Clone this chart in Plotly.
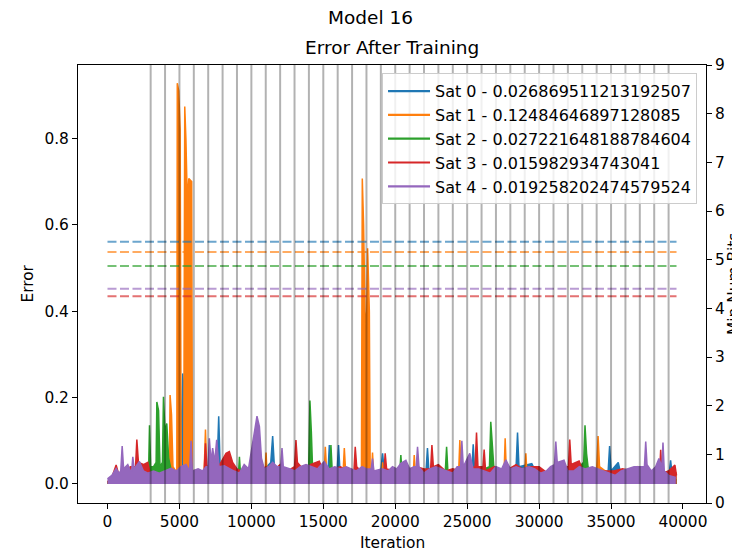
import plotly.graph_objects as go

# ---------------- data ----------------
sat_names = [
    "Sat 0 - 0.026869511213192507",
    "Sat 1 - 0.12484646897128085",
    "Sat 2 - 0.027221648188784604",
    "Sat 3 - 0.015982934743041",
    "Sat 4 - 0.019258202474579524",
]
colors = ["#1f77b4", "#ff7f0e", "#2ca02c", "#d62728", "#9467bd"]

# error envelopes (iteration, error) per satellite
sat0_x = [0, 1000, 2000, 3000, 4000, 4450, 4700, 5080, 5180, 5230, 5300, 5400, 5480, 6000, 7000, 7620, 7730, 7830,
          8500, 9500, 10500, 11350, 11480, 11600, 12500, 13500, 14500, 15330, 15420, 15520, 15960, 16060, 16160,
          17000, 18000, 19000, 19120, 19250, 20500, 21500, 22140, 22240, 22340, 23500, 24500, 25320, 25420, 25520,
          26500, 27500, 28400, 28500, 28600, 29490, 29900, 31000, 32000, 33000, 34000, 34800, 34900, 35000, 35500,
          35700, 36500, 37500, 38500, 39060, 39140, 39250, 39550]
sat0_y = [0.005, 0.01, 0.01, 0.015, 0.02, 0.04, 0.02, 0.05, 0.20, 0.256, 0.22, 0.10, 0.03, 0.015, 0.02, 0.04, 0.157,
          0.04, 0.02, 0.015, 0.02, 0.05, 0.111, 0.04, 0.02, 0.015, 0.02, 0.03, 0.09, 0.03, 0.03, 0.09, 0.03, 0.02,
          0.015, 0.03, 0.071, 0.025, 0.02, 0.02, 0.03, 0.083, 0.03, 0.02, 0.025, 0.03, 0.092, 0.03, 0.02, 0.02, 0.04,
          0.119, 0.04, 0.047, 0.02, 0.015, 0.02, 0.02, 0.025, 0.03, 0.088, 0.03, 0.05, 0.02, 0.02, 0.02, 0.025, 0.03,
          0.055, 0.02, 0.02]

sat1_x = [0, 1000, 2000, 3000, 4000, 4300, 4350, 4450, 4550, 4750, 4820, 4850, 4950, 5050, 5120, 5300, 5370, 5450,
          5550, 5650, 5850, 5900, 6300, 6720, 6810, 6900, 7500, 8500, 9500, 10500, 10560, 10650, 10950, 11020, 11100,
          12500, 14000, 15060, 15140, 15230, 16000, 16380, 16460, 16550, 17300, 17650, 17710, 17800, 17900, 18000,
          18080, 18200, 18260, 18350, 18420, 18500, 19050, 19120, 19200, 20500, 21250, 21320, 21400, 22500, 23500,
          24400, 24490, 24580, 25500, 26500, 27560, 27640, 27720, 28500, 29000, 29080, 29160, 30500, 31500, 32500,
          33500, 34000, 34100, 34200, 35000, 36000, 36830, 37500, 38500, 39260, 39550]
sat1_y = [0.005, 0.01, 0.01, 0.02, 0.03, 0.03, 0.206, 0.16, 0.04, 0.03, 0.03, 0.928, 0.91, 0.82, 0.04, 0.04, 0.874,
          0.80, 0.65, 0.707, 0.70, 0.02, 0.015, 0.03, 0.126, 0.03, 0.02, 0.025, 0.02, 0.02, 0.06, 0.02, 0.02, 0.073,
          0.02, 0.02, 0.02, 0.02, 0.086, 0.03, 0.03, 0.03, 0.083, 0.03, 0.02, 0.02, 0.707, 0.60, 0.40, 0.35, 0.546,
          0.40, 0.02, 0.02, 0.073, 0.02, 0.02, 0.05, 0.02, 0.02, 0.02, 0.067, 0.02, 0.02, 0.02, 0.02, 0.102, 0.03,
          0.02, 0.02, 0.02, 0.106, 0.03, 0.02, 0.02, 0.071, 0.02, 0.02, 0.02, 0.025, 0.03, 0.03, 0.111, 0.04, 0.02,
          0.025, 0.04, 0.02, 0.02, 0.03, 0.025]

sat2_x = [0, 1000, 2000, 2850, 2920, 3000, 3200, 3380, 3430, 3550, 3650, 3820, 3890, 4000, 4120, 4250, 4400, 4500,
          5000, 6000, 7000, 8000, 9000, 9100, 9170, 9250, 10000, 11000, 12000, 13000, 13980, 14070, 14170, 14250,
          14600, 15300, 15450, 15530, 15620, 16500, 17500, 18500, 19500, 20300, 20390, 20480, 21500, 22500, 23480,
          23570, 23660, 24500, 25500, 26550, 26640, 26750, 26850, 27500, 28500, 29500, 30500, 31500, 32500, 33100,
          33190, 33300, 33400, 34000, 35000, 36000, 37000, 38000, 39000, 39550]
sat2_y = [0.005, 0.008, 0.01, 0.02, 0.136, 0.04, 0.04, 0.05, 0.19, 0.17, 0.04, 0.05, 0.202, 0.12, 0.14, 0.06, 0.04,
          0.02, 0.01, 0.01, 0.015, 0.015, 0.02, 0.02, 0.063, 0.02, 0.015, 0.02, 0.015, 0.02, 0.03, 0.193, 0.12, 0.04,
          0.02, 0.03, 0.03, 0.09, 0.03, 0.015, 0.01, 0.015, 0.02, 0.02, 0.067, 0.02, 0.015, 0.02, 0.03, 0.086, 0.03,
          0.02, 0.025, 0.04, 0.144, 0.09, 0.04, 0.02, 0.015, 0.02, 0.015, 0.02, 0.03, 0.05, 0.136, 0.07, 0.04, 0.02,
          0.015, 0.015, 0.02, 0.015, 0.01, 0.01]

sat3_x = [0, 300, 600, 800, 1200, 1600, 1950, 2040, 2150, 2500, 2800, 3000, 3500, 4000, 4500, 5000, 5500, 6000,
          6400, 6720, 6810, 6900, 7300, 7800, 8240, 8470, 8700, 9000, 9500, 10000, 10500, 11000, 11500, 12000,
          12500, 13000, 13100, 13200, 13700, 14100, 14720, 15000, 15600, 16200, 16700, 17130, 17220, 17320, 17900,
          18500, 19000, 19220, 19300, 19400, 20000, 20500, 21000, 21500, 22000, 22460, 22550, 22650, 23000, 23500,
          24000, 24500, 25000, 25550, 25650, 25750, 26100, 26180, 26280, 26900, 27300, 27900, 28400, 28800, 29300,
          30000, 30400, 30900, 31400, 32040, 32130, 32230, 32780, 33000, 33500, 34000, 34600, 35200, 35800, 36400,
          37000, 37600, 38000, 38370, 38450, 38550, 39000, 39440, 39550]
sat3_y = [0.005, 0.015, 0.044, 0.02, 0.03, 0.04, 0.04, 0.103, 0.05, 0.045, 0.05, 0.02, 0.015, 0.02, 0.015, 0.02,
          0.015, 0.02, 0.02, 0.03, 0.094, 0.04, 0.05, 0.045, 0.071, 0.075, 0.05, 0.035, 0.025, 0.03, 0.025, 0.04,
          0.03, 0.045, 0.03, 0.04, 0.102, 0.05, 0.03, 0.045, 0.053, 0.03, 0.035, 0.04, 0.03, 0.03, 0.086, 0.04, 0.02,
          0.025, 0.03, 0.03, 0.071, 0.035, 0.03, 0.03, 0.035, 0.04, 0.035, 0.035, 0.09, 0.04, 0.045, 0.03, 0.035,
          0.03, 0.035, 0.04, 0.119, 0.04, 0.04, 0.08, 0.03, 0.04, 0.03, 0.035, 0.045, 0.035, 0.04, 0.04, 0.03, 0.015,
          0.04, 0.04, 0.103, 0.045, 0.053, 0.035, 0.03, 0.025, 0.03, 0.03, 0.035, 0.03, 0.035, 0.03, 0.015, 0.02,
          0.079, 0.025, 0.03, 0.044, 0.02]

sat4_x = [0, 300, 600, 800, 920, 1020, 1120, 1410, 1600, 1680, 1760, 1850, 2220, 2500, 2800, 3200, 3600, 4000, 4420,
          4800, 5100, 5460, 5700, 5810, 5900, 6300, 6600, 6850, 6990, 7080, 7200, 7310, 7450, 7590, 7750, 8120, 8500,
          8800, 9170, 9500, 9800, 10090, 10390, 10560, 10700, 10900, 11200, 11480, 11800, 12040, 12130, 12220,
          12700, 13000, 13400, 13800, 14200, 14600, 15070, 15400, 15800, 16200, 16600, 16900, 17270, 17700, 18000,
          18330, 18420, 18520, 19100, 19500, 19810, 20100, 20390, 20740, 21000, 21300, 21460, 21550, 21650, 22000,
          22400, 22820, 23200, 23600, 24000, 24300, 24540, 24630, 24730, 25180, 25400, 25800, 26200, 26600, 27000,
          27400, 27690, 28000, 28400, 28800, 29300, 29700, 30100, 30500, 30800, 31070, 31160, 31260, 31730, 32000,
          32400, 32800, 33200, 33700, 34100, 34500, 34900, 35300, 35700, 36100, 36600, 37000, 37320, 37410, 37500,
          37800, 38100, 38330, 38530, 38610, 38700, 39000, 39260, 39500]
sat4_y = [0.012, 0.02, 0.036, 0.025, 0.03, 0.088, 0.035, 0.045, 0.03, 0.03, 0.063, 0.035, 0.052, 0.03, 0.025, 0.03,
          0.025, 0.03, 0.036, 0.03, 0.04, 0.045, 0.03, 0.100, 0.03, 0.035, 0.03, 0.04, 0.04, 0.106, 0.05, 0.083, 0.05,
          0.102, 0.04, 0.042, 0.035, 0.03, 0.025, 0.045, 0.035, 0.094, 0.157, 0.133, 0.06, 0.035, 0.04, 0.05, 0.04,
          0.04, 0.083, 0.04, 0.035, 0.03, 0.04, 0.045, 0.04, 0.035, 0.052, 0.035, 0.04, 0.035, 0.04, 0.035, 0.03,
          0.04, 0.035, 0.035, 0.059, 0.03, 0.035, 0.03, 0.04, 0.035, 0.048, 0.055, 0.035, 0.04, 0.04, 0.086, 0.04,
          0.025, 0.035, 0.04, 0.035, 0.03, 0.025, 0.04, 0.04, 0.100, 0.04, 0.071, 0.035, 0.035, 0.03, 0.025, 0.04,
          0.035, 0.056, 0.035, 0.04, 0.035, 0.04, 0.035, 0.025, 0.03, 0.04, 0.045, 0.098, 0.05, 0.055, 0.03, 0.03,
          0.04, 0.035, 0.04, 0.035, 0.03, 0.025, 0.02, 0.03, 0.035, 0.04, 0.04, 0.04, 0.098, 0.045, 0.03, 0.04, 0.059,
          0.04, 0.096, 0.03, 0.02, 0.017, 0.015]

series_x = [sat0_x, sat1_x, sat2_x, sat3_x, sat4_x]
series_y = [sat0_y, sat1_y, sat2_y, sat3_y, sat4_y]

# min num bits (dashed reference lines, right axis)
min_bits = [5.37, 5.16, 4.87, 4.25, 4.40]
bits_x_span = [0, 39550]

# checkpoint iterations (vertical lines)
checkpoints = [3000, 4000, 5000, 6000, 7000, 8000, 9000, 10000, 11000, 12000, 13000, 14000, 15000, 16000, 17000,
               18000, 19000, 20000, 21000, 22000, 23000, 24000, 25000, 26000, 27000, 28000, 29000, 30000, 31000,
               32000, 33000, 34000, 35000, 36000, 37000, 38000, 39000]

x_ticks = [0, 5000, 10000, 15000, 20000, 25000, 30000, 35000, 40000]
y_ticks = [0.0, 0.2, 0.4, 0.6, 0.8]
y2_ticks = [0, 1, 2, 3, 4, 5, 6, 7, 8, 9]

# ---------------- figure ----------------
FONT = "DejaVu Sans"
fs = 15.4
fig = go.Figure()

for i in range(5):
    fig.add_trace(go.Scatter(
        x=series_x[i], y=series_y[i], mode="lines", fill="tozeroy",
        fillcolor=colors[i], line=dict(color=colors[i], width=1.5),
        showlegend=False, hoverinfo="skip"))

for i in range(5):
    fig.add_trace(go.Scatter(
        x=bits_x_span, y=[min_bits[i], min_bits[i]], mode="lines", yaxis="y2",
        line=dict(color=colors[i], width=2, dash="9px,3.5px"), opacity=0.65,
        showlegend=False, hoverinfo="skip"))

for i in range(5):
    fig.add_trace(go.Scatter(
        x=[None], y=[None], mode="lines", name=sat_names[i],
        line=dict(color=colors[i], width=2.2)))

for c in checkpoints:
    fig.add_shape(type="line", xref="x", yref="paper", x0=c, x1=c, y0=0, y1=1,
                  line=dict(color="rgba(0,0,0,0.3)", width=2), layer="above")

axis_common = dict(showline=True, linecolor="black", linewidth=1, ticks="outside", ticklen=5,
                   tickcolor="black", tickwidth=1, showgrid=False, zeroline=False,
                   tickfont=dict(family=FONT, size=fs, color="black"))

# page body has an 8px margin: shrink figure so the plot lands where the reference has it
fig.update_layout(
    width=732, height=544,
    margin=dict(l=69.5, r=34, t=56.5, b=49),
    paper_bgcolor="white", plot_bgcolor="white",
    font=dict(family=FONT, size=fs, color="black"),
    xaxis=dict(range=[-2050, 41600], tickvals=x_ticks, tickformat="d", mirror=True, **axis_common),
    yaxis=dict(range=[-0.044, 0.970], tickvals=y_ticks, tickformat=".1f", **axis_common),
    yaxis2=dict(range=[0, 9], tickvals=y2_ticks, overlaying="y", side="right", **axis_common),
    legend=dict(x=0.9857, y=0.9813, xanchor="right", yanchor="top", itemwidth=42,
                bgcolor="rgba(255,255,255,0.8)", bordercolor="#cccccc", borderwidth=1,
                font=dict(family=FONT, size=16, color="black")),
    showlegend=True,
)

annos = [
    dict(text="Model 16", x=0.4654, y=1.108, size=18.5, angle=0),
    dict(text="Error After Training", x=0.5, y=1.040, size=18.5, angle=0),
    dict(text="Error", x=-0.0803, y=0.5, size=fs, angle=-90),
    dict(text="Iteration", x=0.5, y=-0.0912, size=fs, angle=0),
    dict(text="Min Num Bits", x=1.0445, y=0.5, size=fs, angle=-90),
]
for a in annos:
    fig.add_annotation(text=a["text"], x=a["x"], y=a["y"], xref="paper", yref="paper",
                       xanchor="center", yanchor="middle", showarrow=False, textangle=a["angle"],
                       font=dict(family=FONT, size=a["size"], color="black"))

fig.write_html("out.html")
